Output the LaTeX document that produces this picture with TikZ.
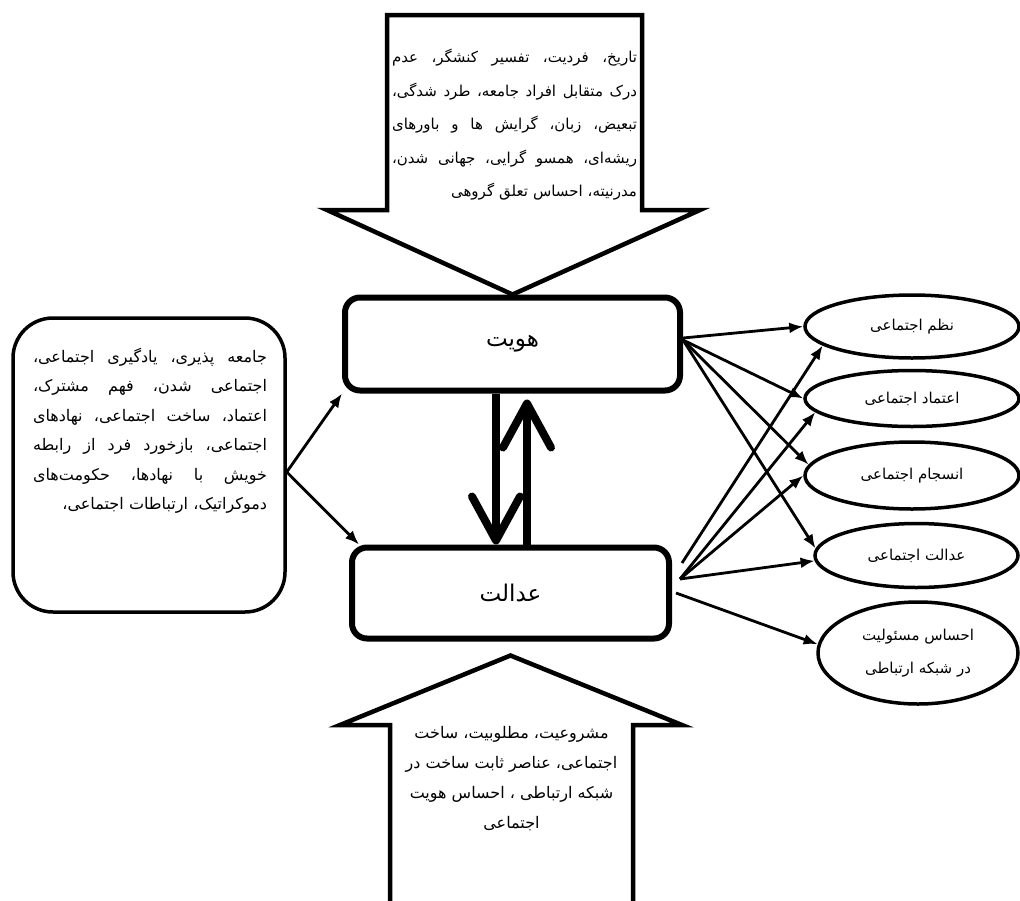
\documentclass[tikz,border=0pt]{standalone}
\usepackage{fontspec}
\usepackage{etoolbox}
\newfontfamily\farsi[Script=Arabic]{DejaVu Sans}
\TeXXeTstate=1
\usetikzlibrary{shapes.geometric,arrows.meta,positioning}

\newcommand{\rl}[1]{\beginR #1\endR}
\newcommand{\rlast}[1]{\leavevmode\hfill\beginR #1\endR\par}
% justified right-to-left line: words are set one by one, right to left
\makeatletter
\newcommand{\jl}[1]{\def\jl@acc{}\jl@scan#1 \@nil\hbox to\linewidth{\jl@acc}\par}
\def\jl@scan#1 #2\@nil{%
  \ifx\jl@acc\@empty\def\jl@acc{\rl{#1}}\else\preto\jl@acc{\rl{#1}\hfill}\fi
  \ifx\relax#2\relax\else\jl@scan#2\@nil\fi}
\makeatother

\tikzset{
  box/.style = {draw, line width=6pt, rounded corners=15pt, font=\farsi\fontsize{23}{26}\selectfont},
  oval/.style = {draw, ellipse, line width=3.5pt, inner sep=0pt, align=center, font=\farsi\fontsize{15}{33}\selectfont},
  txt/.style = {inner sep=0pt, font=\farsi\fontsize{15}{33.5}\selectfont},
  link/.style = {-{Latex[length=14pt,width=11pt]}, line width=2.8pt},
  biglink/.style = {-{Straight Barb[length=44pt,width=48pt,round]}, line width=8pt},
  block/.style = {draw, line width=4.5pt, line join=miter},
}

\begin{document}
\begin{tikzpicture}[x=1pt, y=-1pt]
\useasboundingbox (0,0) rectangle (1020,900);

% central boxes
\node[box, minimum width=335pt, minimum height=93pt] (identity) at (512.5,344) {\rl{هویت}};
\node[box, minimum width=317pt, minimum height=91pt, below=151pt of identity, xshift=-2pt] (justice) {\rl{عدالت}};

% left box
\node[draw, line width=3.5pt, rounded corners=40pt, minimum width=272pt, minimum height=294pt] (socbox) at (149,465) {};
\node[txt, text width=234pt, font=\farsi\fontsize{16}{29.5}\selectfont] (soctext) at (150,431) {%
\jl{جامعه پذیری، یادگیری اجتماعی،}
\jl{اجتماعی شدن، فهم مشترک،}
\jl{اعتماد، ساخت اجتماعی، نهادهای}
\jl{اجتماعی، بازخورد فرد از رابطه}
\jl{خویش با نهادها، حکومت‌های}
\rlast{دموکراتیک، ارتباطات اجتماعی،}};

% outcomes
\node[oval, minimum width=214pt, minimum height=63pt] (order) at (912,326.5) {\rl{نظم اجتماعی}};
\node[oval, minimum width=214pt, minimum height=56pt, below=9pt of order] (trust) {\rl{اعتماد اجتماعی}};
\node[oval, minimum width=214pt, minimum height=67pt, below=12pt of trust] (cohesion) {\rl{انسجام اجتماعی}};
\node[oval, minimum width=203pt, minimum height=64pt, below=11pt of cohesion, xshift=4.5pt] (socjust) {\rl{عدالت اجتماعی}};
\node[oval, minimum width=200pt, minimum height=102pt, below=11pt of socjust, xshift=1.5pt] (resp) {\rl{احساس مسئولیت}\\\rl{در شبکه ارتباطی}};

% top block arrow
\draw[block] (387,15) -- (642,15) -- (642,210) -- (700,210) -- (identity.north) -- (327,210) -- (387,210) -- cycle;
\node[txt, text width=245pt] (causes) at (514.5,125) {%
\jl{تاریخ، فردیت، تفسیر کنشگر، عدم}
\jl{درک متقابل افراد جامعه، طرد شدگی،}
\jl{تبعیض، زبان، گرایش ها و باورهای}
\jl{ریشه‌ای، همسو گرایی، جهانی شدن،}
\rlast{مدرنیته، احساس تعلق گروهی}};

% bottom block arrow
\draw[block] (390,905) -- (390,725) -- (340,725) -- ([yshift=-14pt]justice.south) -- (682,725) -- (633,725) -- (633,905);
\node[txt, align=center, font=\farsi\fontsize{16}{30}\selectfont] (bases) at (511.5,779) {%
\rl{مشروعیت، مطلوبیت، ساخت}\\
\rl{اجتماعی، عناصر ثابت ساخت در}\\
\rl{شبکه ارتباطی ، احساس هویت}\\
\rl{اجتماعی}};

% two-way link
\draw[biglink] ([xshift=-16.5pt]identity.south) -- ([xshift=-14.5pt]justice.north);
\draw[biglink] ([xshift=16.5pt]justice.north) -- ([xshift=14.5pt,yshift=-6pt]identity.south);

\draw[link] ([yshift=-7pt]socbox.east) -- (identity.south west);
\draw[link] ([yshift=-7pt]socbox.east) -- ([xshift=10pt]justice.north west);

\draw[link] ([yshift=6pt]identity.east) -- (order.west);
\draw[link] ([yshift=4pt]identity.east) -- (trust.west);
\draw[link] ([yshift=4pt]identity.east) -- (cohesion.174);
\draw[link] ([yshift=4pt]identity.east) -- (socjust.176);
\draw[link] ([xshift=10pt,yshift=30pt]justice.east) -- (order.192);
\draw[link] ([xshift=8pt,yshift=14pt]justice.east) -- (trust.188);
\draw[link] ([xshift=8pt,yshift=14pt]justice.east) -- (cohesion.west);
\draw[link] ([xshift=8pt,yshift=14pt]justice.east) -- (socjust.183);
\draw[link] ([xshift=4pt]justice.east) -- (resp.175);
\end{tikzpicture}
\end{document}
